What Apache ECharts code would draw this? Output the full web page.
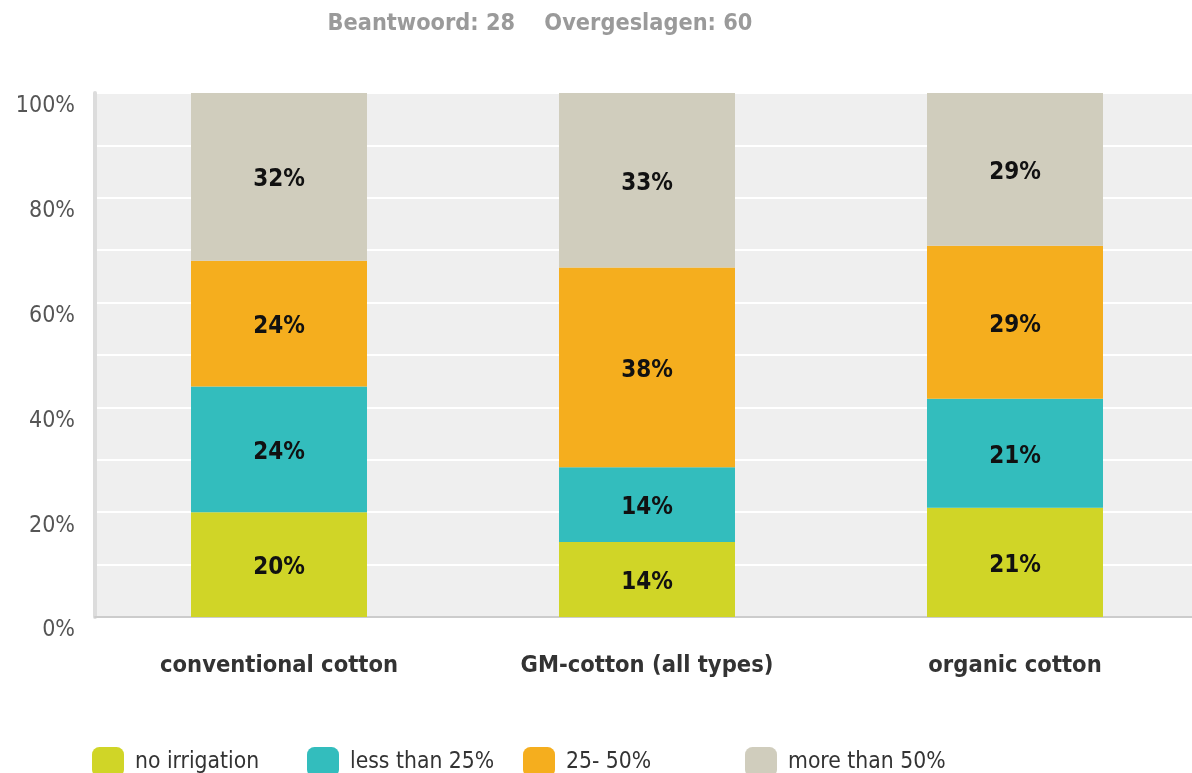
<!DOCTYPE html>
<html><head><meta charset="utf-8">
<script src="https://cdn.jsdelivr.net/npm/echarts@6/dist/echarts.min.js"></script>
<style>html,body{margin:0;padding:0;background:#fff}#c{width:1192px;height:773px}</style>
</head><body><div id="c"></div>
<script>
const categories = ['conventional cotton', 'GM-cotton (all types)', 'organic cotton'];
const seriesNames = ['no irrigation', 'less than 25%', '25- 50%', 'more than 50%'];
const noIrrigation = [20, 14.29, 20.83];
const lessThan25 = [24, 14.29, 20.83];
const between25and50 = [24, 38.10, 29.17];
const moreThan50 = [32, 33.33, 29.17];
const yTicks = [0, 20, 40, 60, 80, 100];
const titleText = 'Beantwoord: 28    Overgeslagen: 60';

const colors = ['#d0d527', '#33bdbd', '#f5ae1e', '#d0cdbd'];
const values = [noIrrigation, lessThan25, between25and50, moreThan50];
const FONT = "'DejaVu Sans Condensed', 'Liberation Sans Narrow', 'Liberation Sans', Arial, sans-serif";
const legendLefts = [87, 302, 518, 740];

const chart = echarts.init(document.getElementById('c'), null, {renderer: 'canvas'});
chart.setOption({
  animation: false,
  title: {
    text: titleText, left: 535, top: 7, textAlign: 'center',
    textStyle: {fontFamily: FONT, fontSize: 23.3, fontWeight: 'bold', color: '#9a9a9a'}
  },
  legend: seriesNames.map((n, i) => ({
    data: [n], left: legendLefts[i], top: 742, itemWidth: 32, itemHeight: 30,
    icon: 'roundRect',
    textStyle: {fontFamily: FONT, fontSize: 22.7, color: '#333', padding: [0, 0, 0, 6]}
  })),
  grid: {left: 95, width: 1104, top: 93, bottom: 156, outerBoundsMode: 'none', show: true, backgroundColor: '#efefef', borderWidth: 0},
  xAxis: {
    type: 'category', data: categories,
    axisLine: {show: true, lineStyle: {color: '#cccccc', width: 2}},
    axisTick: {show: false},
    axisLabel: {fontFamily: FONT, fontSize: 23.5, fontWeight: 'bold', color: '#333', margin: 37}
  },
  yAxis: {
    type: 'value', min: 0, max: 100, interval: 10,
    axisLine: {show: true, lineStyle: {color: '#dcdcdc', width: 4}},
    axisTick: {show: false},
    splitLine: {show: true, lineStyle: {color: '#ffffff', width: 2}},
    axisLabel: {
      fontFamily: FONT, fontSize: 23, color: '#555', margin: 20, verticalAlign: 'top', padding: [2, 0, 0, 0],
      formatter: v => yTicks.includes(v) ? v + '%' : ''
    }
  },
  series: seriesNames.map((name, i) => ({
    name, type: 'bar', stack: 'total', data: values[i], barWidth: 176,
    itemStyle: {color: colors[i]},
    label: {
      show: true, position: 'inside', offset: [0, 3], fontFamily: FONT, fontSize: 24, fontWeight: 'bold', color: '#111',
      formatter: p => Math.round(p.value) + '%'
    }
  }))
});
</script></body></html>
